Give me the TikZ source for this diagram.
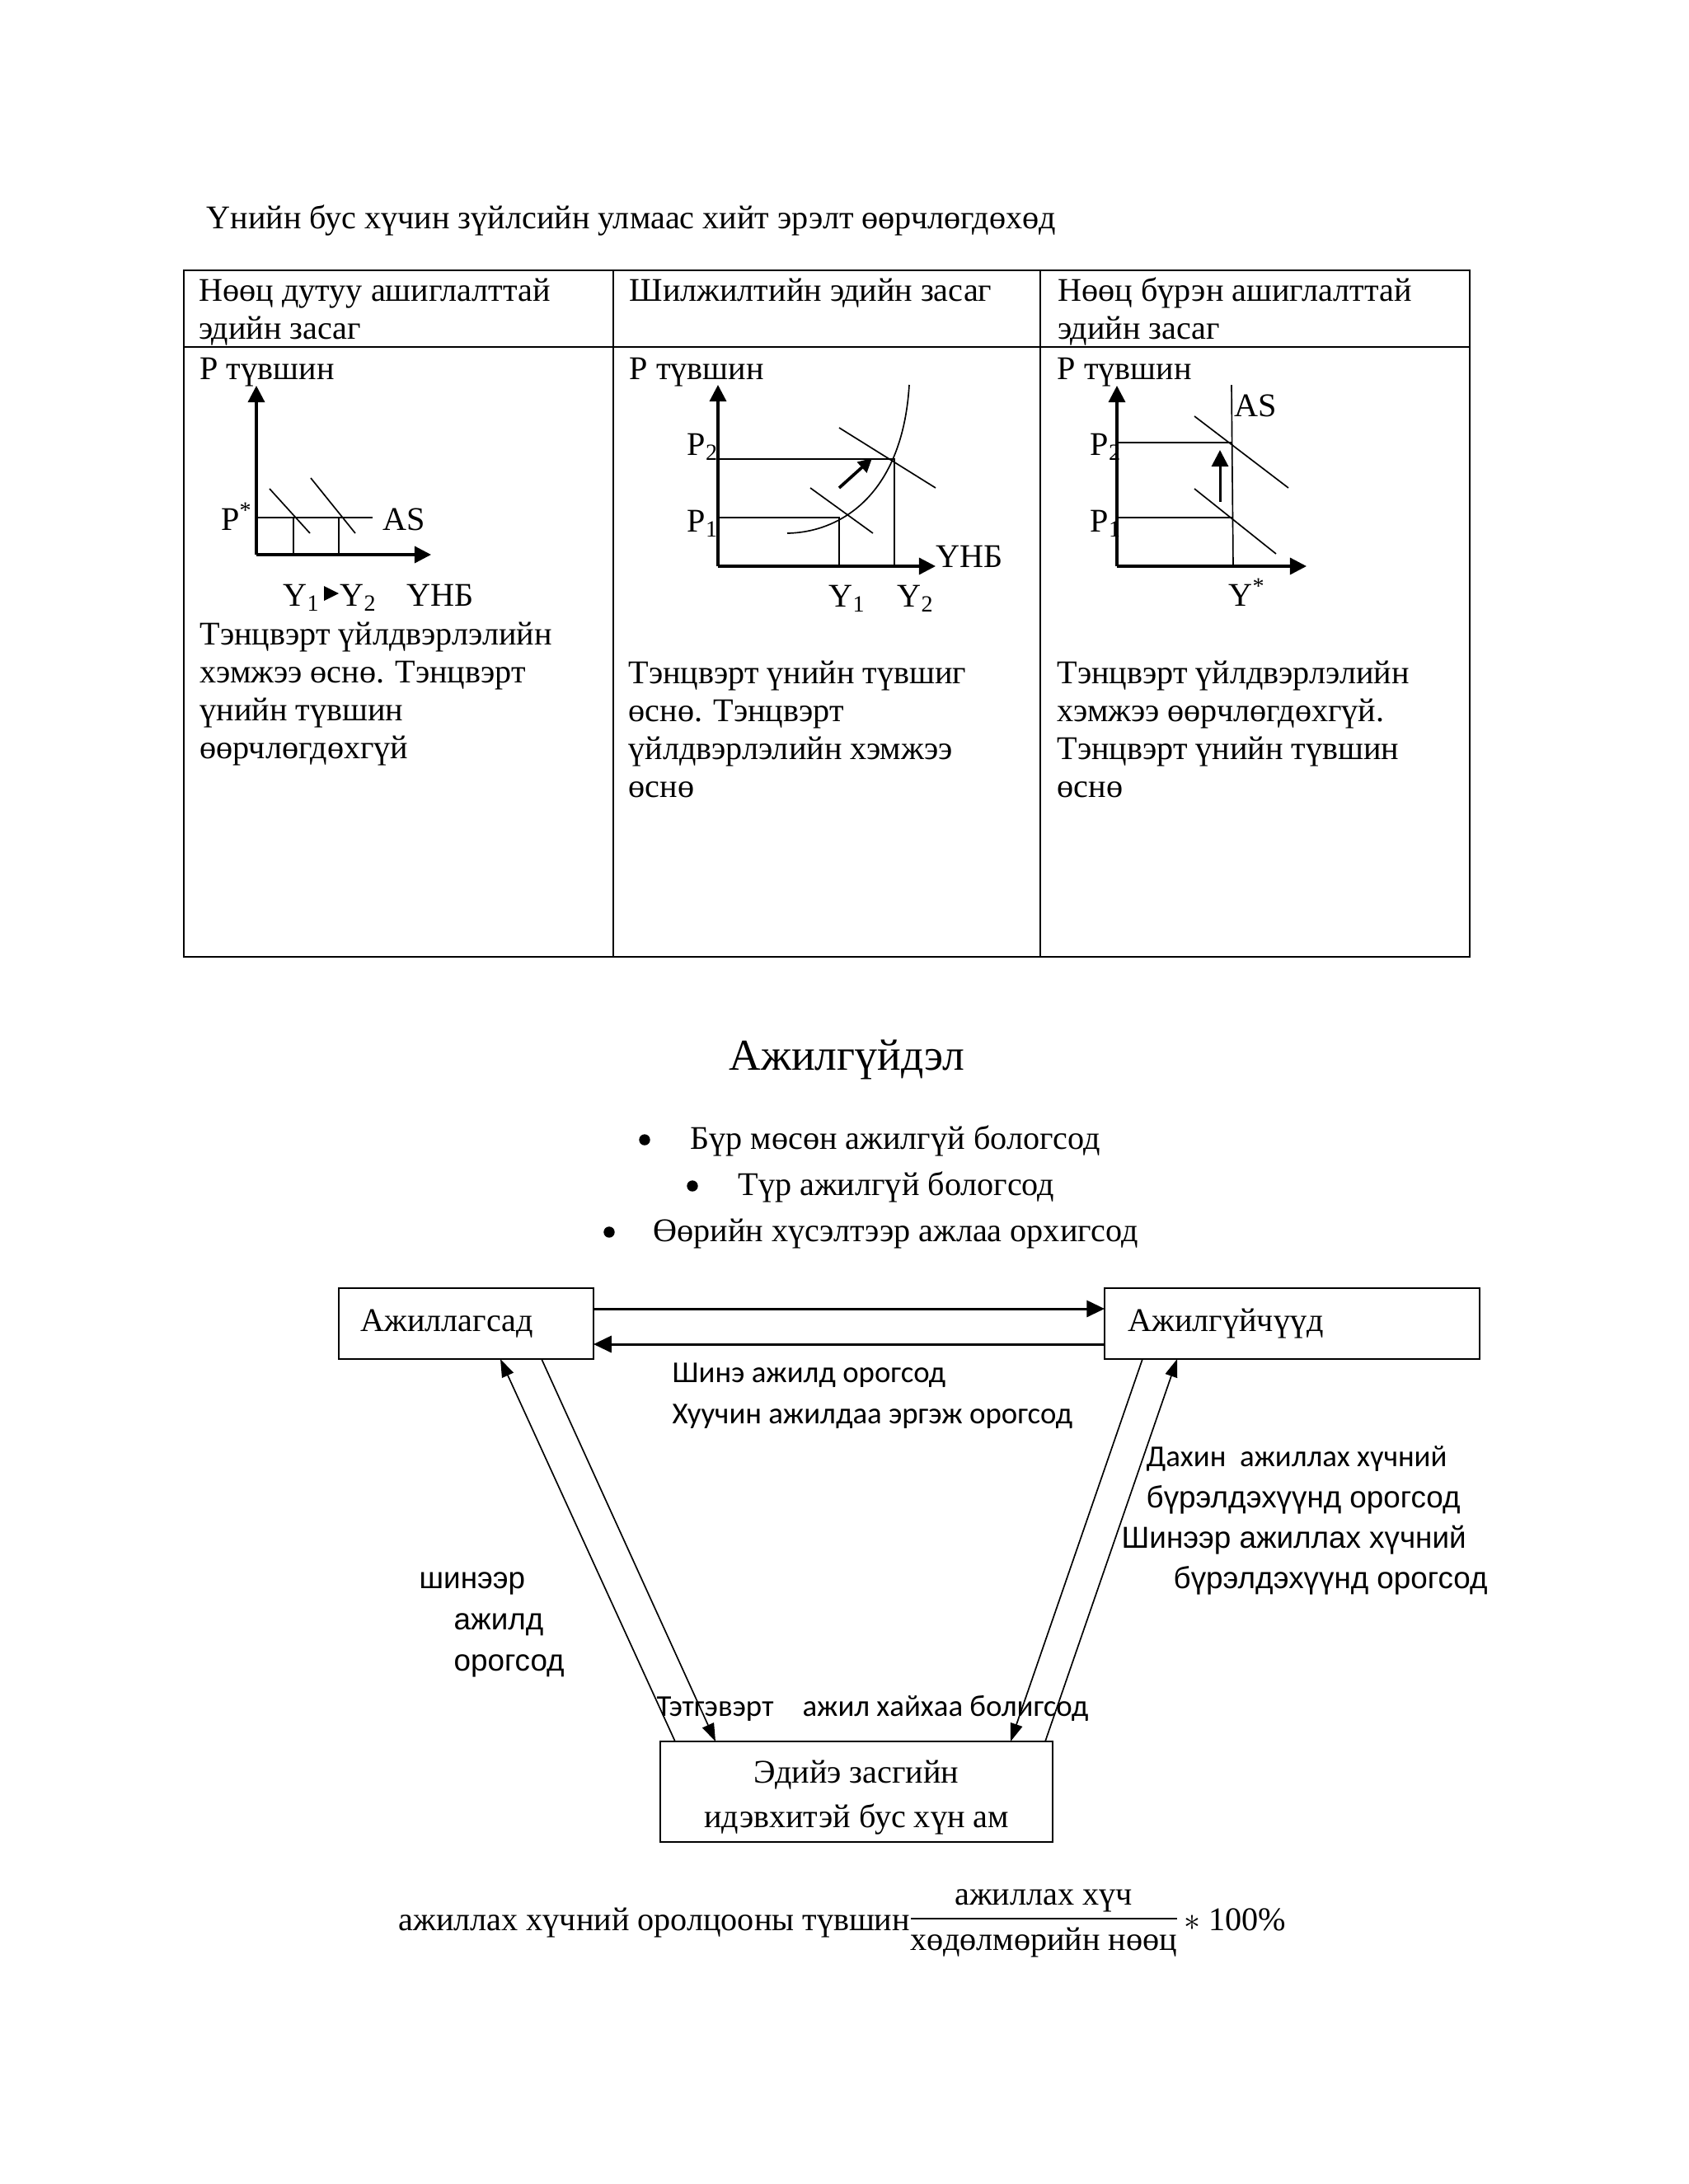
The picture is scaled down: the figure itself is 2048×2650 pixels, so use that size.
\documentclass[tikz,border=0pt]{standalone}
\usepackage{fontspec}
\setmainfont{Liberation Serif}
\newfontfamily\arialf{Liberation Sans}
\newfontfamily\calibrif{Carlito}
\usetikzlibrary{arrows.meta,calc,fit}
\begin{document}
\begin{tikzpicture}[x=0.298828bp, y=-0.298828bp,
  tr/.style={inner sep=0pt, anchor=base west, font=\fontsize{12bp}{14bp}\selectfont},
  trc/.style={inner sep=0pt, anchor=base, font=\fontsize{12bp}{14bp}\selectfont},
  tbig/.style={inner sep=0pt, anchor=base west, font=\fontsize{16bp}{19bp}\selectfont},
  ar/.style={inner sep=0pt, anchor=base west, font=\arialf\fontsize{11bp}{13bp}\selectfont},
  ca/.style={inner sep=0pt, anchor=base west, font=\calibrif\fontsize{11bp}{13bp}\selectfont},
  grid/.style={line width=0.6bp},
  axis/.style={line width=1bp, -{Triangle[length=6bp,width=6bp]}},
  thinl/.style={line width=0.5bp},
  box/.style={draw, line width=0.6bp, inner sep=0pt, outer sep=0pt},
  flow/.style={line width=0.5bp, -{Triangle[length=6.5bp,width=4.5bp]}},
  hflow/.style={line width=0.9bp, -{Triangle[length=6.5bp,width=6bp]}},
  shiftarrow/.style={line width=1.1bp, -{Triangle[length=5bp,width=5bp]}},
]
\useasboundingbox (0,0) rectangle (2048,2650);
\fill[white] (0,0) rectangle (2048,2650);

% ---------- title ----------
\node[tr] (title) at (250,277) {Үнийн бус хүчин зүйлсийн улмаас хийт эрэлт өөрчлөгдөхөд};

% ---------- table ----------
\draw[grid] (223,328) rectangle (1783,1161);
\draw[grid] (223,421) -- (1783,421);
\draw[grid] (744,328) -- (744,1161);
\draw[grid] (1262,328) -- (1262,1161);

\node[tr] (h1a) at (241,365) {Нөөц дутуу ашиглалттай};
\node[tr] (h1b) at (241,411) {эдийн засаг};
\node[tr] (h2a) at (763,365) {Шилжилтийн эдийн засаг};
\node[tr] (h3a) at (1283,365) {Нөөц бүрэн ашиглалттай};
\node[tr] (h3b) at (1283,411) {эдийн засаг};

\node[tr] (p1lab) at (242,460) {P түвшин};
\node[tr] (p2lab) at (763,460) {P түвшин};
\node[tr] (p3lab) at (1282,460) {P түвшин};

% ---------- graph 1 ----------
\draw[axis] (311,673) -- (311,468);
\draw[axis] (311,673) -- (523,673);
\draw[thinl] (311,628) -- (452,628);
\draw[thinl] (356,628) -- (356,673);
\draw[thinl] (411,628) -- (411,673);
\draw[thinl] (327,593) -- (376,647);
\draw[thinl] (377,580) -- (431,647);
\node[tr, anchor=base east] (g1p) at (307,643) {P\textsuperscript{*}};
\node[tr] (g1as) at (464,643) {AS};
\node[tr] (g1y1) at (343,735) {Y\textsubscript{1}};
\fill (393,711) -- (411,720) -- (393,729) -- cycle;
\node[tr] (g1y2) at (412,735) {Y\textsubscript{2}};
\node[tr] (g1x) at (493,735) {ҮНБ};

\node[tr] (c1a) at (242,782) {Тэнцвэрт үйлдвэрлэлийн};
\node[tr] (c1b) at (242,828) {хэмжээ өснө. Тэнцвэрт};
\node[tr] (c1c) at (242,874) {үнийн түвшин};
\node[tr] (c1d) at (242,920) {өөрчлөгдөхгүй};

% ---------- graph 2 ----------
\draw[axis] (871,687) -- (871,467);
\draw[axis] (871,687) -- (1135,687);
\draw[thinl] (871,557) -- (1085,557) -- (1085,687);
\draw[thinl] (871,628) -- (1018,628) -- (1018,687);
\draw[thinl] (955,647) .. controls (1020,646) and (1095,600) .. (1103,467);
\draw[thinl] (983,592) -- (1059,647);
\draw[thinl] (1018,519) -- (1135,592);
\draw[shiftarrow] (1018,592) -- (1058,556);
\node[tr] (g2p2) at (833,552) {P\textsubscript{2}};
\node[tr] (g2p1) at (833,645) {P\textsubscript{1}};
\node[tr] (g2x) at (1135,688) {ҮНБ};
\node[tr] (g2y1) at (1005,736) {Y\textsubscript{1}};
\node[tr] (g2y2) at (1088,736) {Y\textsubscript{2}};

\node[tr] (c2a) at (762,829) {Тэнцвэрт үнийн түвшиг};
\node[tr] (c2b) at (762,875) {өснө. Тэнцвэрт};
\node[tr] (c2c) at (762,921) {үйлдвэрлэлийн хэмжээ};
\node[tr] (c2d) at (762,967) {өснө};

% ---------- graph 3 ----------
\draw[axis] (1355,687) -- (1355,468);
\draw[axis] (1355,687) -- (1585,687);
\draw[thinl] (1494,467) -- (1496,687);
\draw[thinl] (1355,537) -- (1494,537);
\draw[thinl] (1355,628) -- (1495,628);
\draw[thinl] (1449,505) -- (1563,592);
\draw[thinl] (1449,593) -- (1548,672);
\draw[line width=0.9bp, -{Triangle[length=6bp,width=6bp]}] (1480,609) -- (1480,546);
\node[tr] (g3as) at (1497,505) {AS};
\node[tr] (g3p2) at (1322,552) {P\textsubscript{2}};
\node[tr] (g3p1) at (1322,645) {P\textsubscript{1}};
\node[tr] (g3y) at (1490,735) {Y\textsuperscript{*}};

\node[tr] (c3a) at (1282,829) {Тэнцвэрт үйлдвэрлэлийн};
\node[tr] (c3b) at (1282,875) {хэмжээ өөрчлөгдөхгүй.};
\node[tr] (c3c) at (1282,921) {Тэнцвэрт үнийн түвшин};
\node[tr] (c3d) at (1282,967) {өснө};

% ---------- unemployment ----------
\node[tbig] (ttl2) at (884,1298) {Ажилгүйдэл};
\fill (782,1383) circle (2bp);
\node[tr] (b1) at (837,1394) {Бүр мөсөн ажилгүй бологсод};
\fill (840,1439) circle (2bp);
\node[tr] (b2) at (895,1450) {Түр ажилгүй бологсод};
\fill (739,1495) circle (2bp);
\node[tr] (b3) at (792,1506) {Өөрийн хүсэлтээр ажлаа орхигсод};

\node[box, fit={(411,1563)(720,1649)}] (emp) {};
\node[box, fit={(1340,1563)(1795,1649)}] (unemp) {};
\node[box, fit={(801,2113)(1277,2235)}] (inact) {};
\node[tr] (empt) at (437,1615) {Ажиллагсад};
\node[tr] (unempt) at (1368,1615) {Ажилгүйчүүд};
\node[trc] (inacta) at (1039,2163) {Эдийэ засгийн};
\node[trc] (inactb) at (1039,2217) {идэвхитэй бус хүн ам};

\draw[hflow] ($(emp.north east)+(0,25)$) -- ($(unemp.north west)+(0,25)$);
\draw[hflow] ($(unemp.north west)+(0,68)$) -- ($(emp.north east)+(0,68)$);
\draw[flow] ($(inact.north west)+(18,0)$) -- ($(emp.south west)+(196,0)$);
\draw[flow] ($(emp.south west)+(246,0)$) -- ($(inact.north west)+(67,0)$);
\draw[flow] ($(unemp.south west)+(46,0)$) -- ($(inact.north west)+(425,0)$);
\draw[flow] ($(inact.north west)+(467,0)$) -- ($(unemp.south west)+(88,0)$);

\node[ca] (l1) at (815,1677) {Шинэ ажилд орогсод};
\node[ca] (l2) at (815,1727) {Хуучин ажилдаа эргэж орогсод};
\node[ca] (r1) at (1390,1779) {Дахин\ \ ажиллах хүчний};
\node[ar] (r2) at (1390,1829) {бүрэлдэхүүнд орогсод};
\node[ar] (r3) at (1360,1878) {Шинээр ажиллах хүчний};
\node[ar] (r4) at (1423,1927) {бүрэлдэхүүнд орогсод};
\node[ar] (s1) at (508,1927) {шинээр};
\node[ar] (s2) at (550,1977) {ажилд};
\node[ar] (s3) at (550,2027) {орогсод};
\node[ca] (bt) at (796,2082) {Тэтгэвэрт\hspace{8bp} ажил хайхаа болигсод};

% ---------- formula ----------
\node[tr] (f1) at (483,2342) {ажиллах хүчний оролцооны түвшин};
\draw[line width=0.7bp] (1105,2328) -- (1428,2328);
\node[trc] (fnum) at (1266,2311) {ажиллах хүч};
\node[trc] (fden) at (1266,2366) {хөдөлмөрийн нөөц};
\node[tr] (f2) at (1436,2342) {$\ast$ 100\%};
\end{tikzpicture}
\end{document}
